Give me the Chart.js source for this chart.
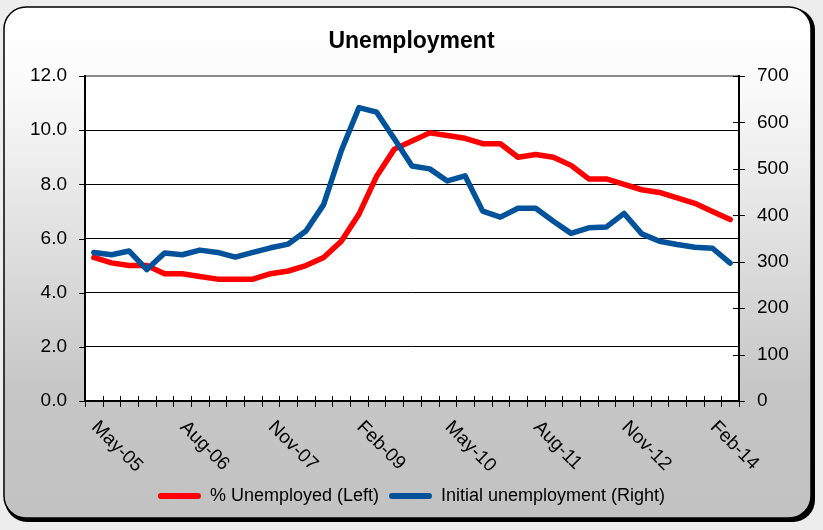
<!DOCTYPE html>
<html><head><meta charset="utf-8">
<script src="https://cdn.jsdelivr.net/npm/chart.js@4.4.1/dist/chart.umd.min.js"></script>
<style>html,body{margin:0;padding:0;background:#ededed;}canvas{display:block;}</style>
</head><body>
<canvas id="c" width="823" height="530"></canvas>
<script>
const categories = ['May-05','Aug-05','Nov-05','Feb-06','May-06','Aug-06','Nov-06','Feb-07','May-07','Aug-07',
  'Nov-07','Feb-08','May-08','Aug-08','Nov-08','Feb-09','May-09','Aug-09','Nov-09','Feb-10',
  'May-10','Aug-10','Nov-10','Feb-11','May-11','Aug-11','Nov-11','Feb-12','May-12','Aug-12',
  'Nov-12','Feb-13','May-13','Aug-13','Nov-13','Feb-14','May-14'];
const shownLabels = ['May-05','Aug-06','Nov-07','Feb-09','May-10','Aug-11','Nov-12','Feb-14'];
const unemploymentRate = [5.3,5.1,5.0,5.0,4.7,4.7,4.6,4.5,4.5,4.5,4.7,4.8,5.0,5.3,5.9,6.9,8.3,9.3,9.6,9.9,
  9.8,9.7,9.5,9.5,9.0,9.1,9.0,8.7,8.2,8.2,8.0,7.8,7.7,7.5,7.3,7.0,6.7];
const initialClaims = [320,315,323,283,319,315,325,320,310,320,330,338,366,423,539,632,622,565,506,500,
  474,485,409,396,415,415,387,361,373,375,404,360,344,337,331,329,297];
const leftTickValues = [0,2,4,6,8,10,12];
const rightTickValues = [0,100,200,300,400,500,600,700];
const seriesNames = ['% Unemployed (Left)','Initial unemployment (Right)'];

const FONT = "'Liberation Sans', Arial, sans-serif";

const framePlugin = {
  id: 'frame',
  beforeDraw(chart) {
    const ctx = chart.ctx, W = chart.width, H = chart.height;
    ctx.save();
    ctx.fillStyle = '#ededed';
    ctx.fillRect(0, 0, W, H);
    const x0 = 4, y0 = 7, x1 = 811, y1 = 518, r = 22;
    ctx.beginPath(); ctx.roundRect(x0 + 1, y0 + 1, x1 - x0 + 3, y1 - y0 + 3, r);
    ctx.fillStyle = '#000'; ctx.fill();
    const g = ctx.createLinearGradient(0, y0, 0, y1);
    g.addColorStop(0, '#ffffff'); g.addColorStop(0.15, '#fbfbfb');
    g.addColorStop(0.75, '#c6c6c6'); g.addColorStop(1, '#c2c2c2');
    ctx.beginPath(); ctx.roundRect(x0, y0, x1 - x0, y1 - y0, r);
    ctx.fillStyle = g; ctx.fill();
    ctx.lineWidth = 1.5; ctx.strokeStyle = '#000'; ctx.stroke();
    const a = chart.chartArea;
    ctx.fillStyle = '#fff';
    ctx.fillRect(a.left, a.top, a.right - a.left, a.bottom - a.top);
    ctx.restore();
  },
  afterDraw(chart) {
    const ctx = chart.ctx, a = chart.chartArea;
    const xs = chart.scales.x, yl = chart.scales.y, yr = chart.scales.y1;
    ctx.save();
    ctx.strokeStyle = '#000'; ctx.lineWidth = 1;
    const line = (xa, ya, xb, yb) => { ctx.beginPath(); ctx.moveTo(xa, ya); ctx.lineTo(xb, yb); ctx.stroke(); };
    yl.ticks.forEach((t, i) => { const y = Math.round(yl.getPixelForTick(i)) + 0.5; line(a.left - 6, y, a.left, y); });
    yr.ticks.forEach((t, i) => { const y = Math.round(yr.getPixelForTick(i)) + 0.5; line(a.right - 6, y, a.right + 6, y); });
    for (let k = 0; k <= categories.length; k++) {
      const x = Math.round(xs.getPixelForValue(k - 0.5)) + 0.5;
      line(x, a.bottom - 5, x, a.bottom + 6);
    }
    ctx.font = '19px ' + FONT; ctx.fillStyle = '#000';
    ctx.textAlign = 'left'; ctx.textBaseline = 'alphabetic';
    categories.forEach((c, i) => {
      if (!shownLabels.includes(c)) return;
      const x = xs.getPixelForValue(i);
      ctx.save(); ctx.translate(x - 3, a.bottom + 27); ctx.rotate(Math.PI / 4);
      ctx.fillText(c, 0, 0); ctx.restore();
    });
    ctx.restore();
  }
};

new Chart(document.getElementById('c'), {
  type: 'line',
  data: {
    labels: categories,
    datasets: [
      { label: seriesNames[0], data: unemploymentRate, yAxisID: 'y', borderColor: '#ff0000', backgroundColor: '#ff0000',
        borderWidth: 5.5, pointRadius: 0, tension: 0, borderJoinStyle: 'round', borderCapStyle: 'round', order: 2 },
      { label: seriesNames[1], data: initialClaims, yAxisID: 'y1', borderColor: '#00529b', backgroundColor: '#00529b',
        borderWidth: 5.5, pointRadius: 0, tension: 0, borderJoinStyle: 'round', borderCapStyle: 'round', order: 1 }
    ]
  },
  options: {
    responsive: false, animation: false, devicePixelRatio: 1,
    events: [],
    layout: { padding: { top: 0, left: 0, right: 0, bottom: 15 } },
    plugins: {
      title: { display: true, text: 'Unemployment', color: '#000',
        font: { family: FONT, size: 23, weight: 'bold' }, padding: { top: 28, bottom: 20.4 } },
      legend: { position: 'bottom',
        labels: { color: '#000', font: { family: FONT, size: 18 }, boxWidth: 43, boxHeight: 6, padding: 10,
          useBorderRadius: true, borderRadius: 3,
          sort: (a, b) => a.datasetIndex - b.datasetIndex,
          generateLabels: (chart) => Chart.defaults.plugins.legend.labels.generateLabels(chart)
            .map(l => Object.assign(l, { lineWidth: 0 })) } },
      tooltip: { enabled: false }
    },
    scales: {
      x: { type: 'category', offset: true,
        afterFit: s => { s.height = 76; },
        ticks: { display: false }, grid: { display: false },
        border: { display: true, color: '#000', width: 2 } },
      y: { position: 'left', min: leftTickValues[0], max: leftTickValues[leftTickValues.length - 1],
        afterFit: s => { s.width = 85; },
        ticks: { stepSize: leftTickValues[1] - leftTickValues[0], color: '#000', padding: 18,
          font: { family: FONT, size: 19 }, callback: v => Number(v).toFixed(1) },
        grid: { drawTicks: false,
          color: c => c.tick && c.tick.value === leftTickValues[leftTickValues.length - 1] ? '#8a8a8a' : '#000',
          lineWidth: c => c.tick && c.tick.value === leftTickValues[0] ? 0 : (c.tick && c.tick.value === leftTickValues[leftTickValues.length - 1] ? 2 : 1) },
        border: { display: true, color: '#000', width: 2 } },
      y1: { position: 'right', min: rightTickValues[0], max: rightTickValues[rightTickValues.length - 1],
        afterFit: s => { s.width = 84; },
        ticks: { stepSize: rightTickValues[1] - rightTickValues[0], color: '#000', padding: 18,
          font: { family: FONT, size: 19 } },
        grid: { drawOnChartArea: false, drawTicks: false },
        border: { display: true, color: '#000', width: 2 } }
    }
  },
  plugins: [framePlugin]
});
</script>
</body></html>
